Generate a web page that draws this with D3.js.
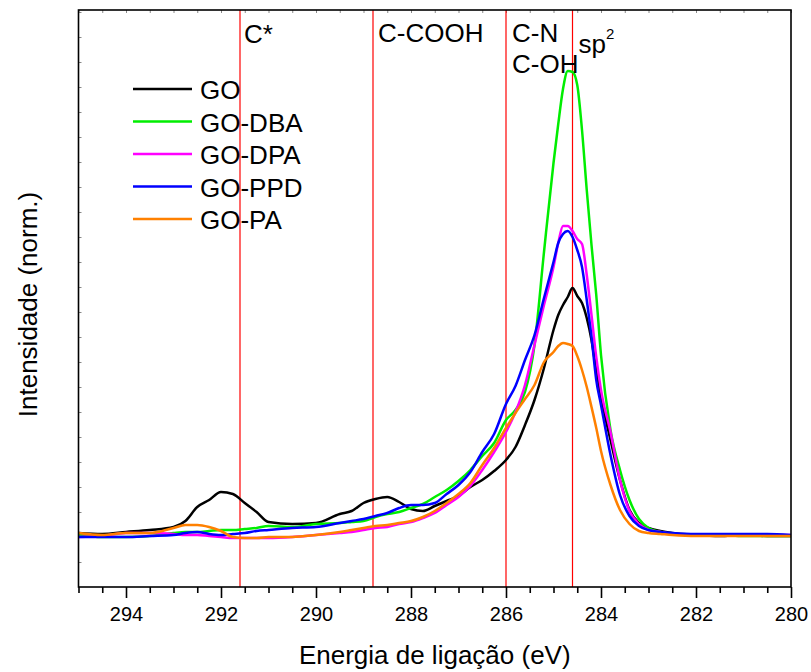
<!DOCTYPE html>
<html>
<head>
<meta charset="utf-8">
<script src="https://cdn.jsdelivr.net/npm/d3@7"></script>
<style>
  body { margin: 0; background: #fff; }
  text { font-family: "Liberation Sans", Arial, sans-serif; fill: #000; }
</style>
</head>
<body>
<div id="chart"></div>
<script>
// binding energy grid (eV), shared by all spectra
const energy = [295, 294.5, 294, 293.5, 293, 292.75, 292.5, 292.25, 292, 291.75, 291.5, 291.25, 291, 290.5, 290, 289.5, 289.25, 289, 288.75, 288.5, 288.25, 288, 287.75, 287.5, 287.25, 287, 286.75, 286.5, 286.25, 286, 285.8, 285.6, 285.4, 285.2, 285.0, 284.9, 284.8, 284.7, 284.6, 284.5, 284.4, 284.3, 284.2, 284.1, 284.0, 283.8, 283.6, 283.4, 283.2, 283.0, 282.75, 282.5, 282, 281.5, 281, 280.5, 280];

// intensities (a.u.)
const GO = [0.54,0.53,0.55,0.57,0.60,0.66,0.80,0.87,0.95,0.93, 0.84,0.75,0.65,0.63,0.64,0.73,0.76,0.84,0.88,0.90, 0.85,0.78,0.76,0.81,0.86,0.91,1.00,1.07,1.16,1.27, 1.40,1.62,1.87,2.19,2.57,2.72,2.82,2.90,2.99,2.91, 2.84,2.69,2.47,2.17,1.90,1.47,1.07,0.77,0.64,0.59, 0.56,0.54,0.52,0.51,0.52,0.51,0.51];
const GO_DBA = [0.52,0.50,0.50,0.51,0.54,0.55,0.55,0.56,0.57,0.57, 0.58,0.59,0.61,0.60,0.63,0.64,0.65,0.66,0.70,0.73, 0.75,0.79,0.83,0.90,0.97,1.06,1.17,1.31,1.44,1.67, 1.77,1.95,2.42,3.35,4.24,4.63,4.98,5.16,5.15,5.02, 4.57,3.97,3.42,2.92,2.32,1.57,1.17,0.87,0.68,0.59, 0.55,0.53,0.52,0.52,0.51,0.51,0.51];
const GO_DPA = [0.50,0.51,0.54,0.54,0.53,0.52,0.52,0.51,0.50,0.49, 0.49,0.49,0.49,0.50,0.52,0.54,0.55,0.57,0.59,0.60, 0.63,0.65,0.69,0.74,0.82,0.90,1.01,1.17,1.35,1.55, 1.75,2.02,2.42,2.82,3.20,3.44,3.61,3.61,3.56,3.48, 3.43,3.12,2.72,2.30,1.97,1.55,1.07,0.76,0.63,0.57, 0.55,0.53,0.52,0.52,0.52,0.52,0.52];
const GO_PPD = [0.50,0.50,0.50,0.51,0.52,0.54,0.55,0.53,0.52,0.53, 0.54,0.56,0.57,0.59,0.60,0.64,0.66,0.68,0.71,0.74, 0.79,0.82,0.82,0.84,0.93,1.02,1.15,1.35,1.53,1.83, 2.01,2.27,2.52,2.89,3.25,3.44,3.53,3.56,3.50,3.37, 3.20,2.87,2.50,2.07,1.82,1.32,0.92,0.71,0.61,0.57, 0.55,0.54,0.53,0.53,0.53,0.53,0.52];
const GO_PA = [0.54,0.52,0.54,0.54,0.59,0.62,0.62,0.60,0.56,0.50, 0.49,0.49,0.50,0.50,0.52,0.55,0.57,0.59,0.61,0.62, 0.64,0.66,0.70,0.76,0.84,0.93,1.04,1.22,1.39,1.59, 1.74,1.88,2.02,2.25,2.35,2.41,2.44,2.43,2.41,2.31, 2.17,2.00,1.80,1.59,1.36,1.02,0.77,0.63,0.56,0.54, 0.53,0.52,0.51,0.51,0.51,0.51,0.51];

const seriesNames = ["GO", "GO-DBA", "GO-DPA", "GO-PPD", "GO-PA"];
const seriesValues = [GO, GO_DBA, GO_DPA, GO_PPD, GO_PA];
const seriesColors = ["#000000", "#00ee00", "#ff00ff", "#0000ff", "#ff8000"];

// reference lines
const peakPos = [291.6, 288.8, 286.0, 284.6];
const xTicks = [294, 292, 290, 288, 286, 284, 282, 280];

const width = 811, height = 672;
const margin = {top: 10, right: 20, bottom: 85, left: 78.5};

const svg = d3.select("#chart").append("svg")
  .attr("width", width)
  .attr("height", height);

const x = d3.scaleLinear()
  .domain([295, 280])
  .range([margin.left, width - margin.right]);

const y = d3.scaleLinear()
  .domain([0, 5.77])
  .range([height - margin.bottom, margin.top]);

const x0 = x.range()[0], x1 = x.range()[1];
const y0 = y.range()[0], y1 = y.range()[1];

// faint inner ticks on top and left
svg.append("g")
  .attr("transform", `translate(0,${y1})`)
  .call(d3.axisTop(x).tickValues(d3.range(295, 279.9, -0.5)).tickSize(-3).tickFormat(""))
  .call(g => g.select(".domain").remove())
  .selectAll("line").attr("stroke", "#888");
svg.append("g")
  .attr("transform", `translate(${x0},0)`)
  .call(d3.axisLeft(y).tickValues(d3.range(0.25, 5.77, 0.25)).tickSize(-3).tickFormat(""))
  .call(g => g.select(".domain").remove())
  .selectAll("line").attr("stroke", "#888");

// red reference lines
svg.selectAll(".peak")
  .data(peakPos)
  .enter().append("line")
  .attr("class", "peak")
  .attr("x1", d => x(d)).attr("x2", d => x(d))
  .attr("y1", y1).attr("y2", y0)
  .attr("stroke", "#ff0000")
  .attr("stroke-width", 1.2);

// spectra
const line = d3.line()
  .x((d, i) => x(energy[i]))
  .y(d => y(d))
  .curve(d3.curveMonotoneX);

svg.selectAll(".spectrum")
  .data(seriesValues)
  .enter().append("path")
  .attr("class", "spectrum")
  .attr("d", line)
  .attr("fill", "none")
  .attr("stroke", (d, i) => seriesColors[i])
  .attr("stroke-width", 2.5)
  .attr("stroke-linejoin", "round");

// frame
svg.append("rect")
  .attr("x", x0).attr("y", y1)
  .attr("width", x1 - x0).attr("height", y0 - y1)
  .attr("fill", "none")
  .attr("stroke", "#000")
  .attr("stroke-width", 1.6);

// bottom axis
const xAxis = svg.append("g")
  .attr("transform", `translate(0,${y0})`)
  .call(d3.axisBottom(x).tickValues(xTicks).tickSize(11).tickPadding(9).tickFormat(d3.format("d")));
xAxis.select(".domain").remove();
xAxis.selectAll("line").attr("stroke-width", 1.6);
xAxis.selectAll("text").style("font-size", "20px").style("font-family", "Liberation Sans, Arial, sans-serif");

svg.append("g")
  .attr("transform", `translate(0,${y0})`)
  .call(d3.axisBottom(x).tickValues(d3.range(295, 279.9, -0.5).filter(v => v % 2 !== 0)).tickSize(6).tickFormat(""))
  .call(g => g.select(".domain").remove())
  .selectAll("line").attr("stroke-width", 1.6);

// axis titles
svg.append("text")
  .attr("x", (x0 + x1) / 2)
  .attr("y", 664)
  .attr("text-anchor", "middle")
  .style("font-size", "26px")
  .text("Energia de ligação (eV)");

svg.append("text")
  .attr("transform", `translate(37,${(y0 + y1) / 2 + 6}) rotate(-90)`)
  .attr("text-anchor", "middle")
  .style("font-size", "26px")
  .text("Intensidade (norm.)");

// peak labels
const lab = svg.append("g").style("font-size", "26px");
lab.append("text").attr("x", x(291.6) + 4).attr("y", 43).text("C*");
lab.append("text").attr("x", x(288.8) + 5).attr("y", 42).text("C-COOH");
lab.append("text").attr("x", x(286.0) + 6).attr("y", 42).text("C-N");
lab.append("text").attr("x", x(286.0) + 6).attr("y", 73).text("C-OH");
const sp = lab.append("text").attr("x", x(284.6) + 6).attr("y", 53);
sp.append("tspan").text("sp");
sp.append("tspan").attr("dy", -14).style("font-size", "15px").text("2");

// legend
const legY = d3.scalePoint().domain(seriesNames).range([89, 219]);
const legend = svg.append("g");
seriesNames.forEach((name, i) => {
  legend.append("line")
    .attr("x1", 133).attr("x2", 192)
    .attr("y1", legY(name)).attr("y2", legY(name))
    .attr("stroke", seriesColors[i])
    .attr("stroke-width", 2.5);
  legend.append("text")
    .attr("x", 200)
    .attr("y", legY(name) + 10)
    .style("font-size", "26px")
    .text(name);
});
</script>
</body>
</html>
